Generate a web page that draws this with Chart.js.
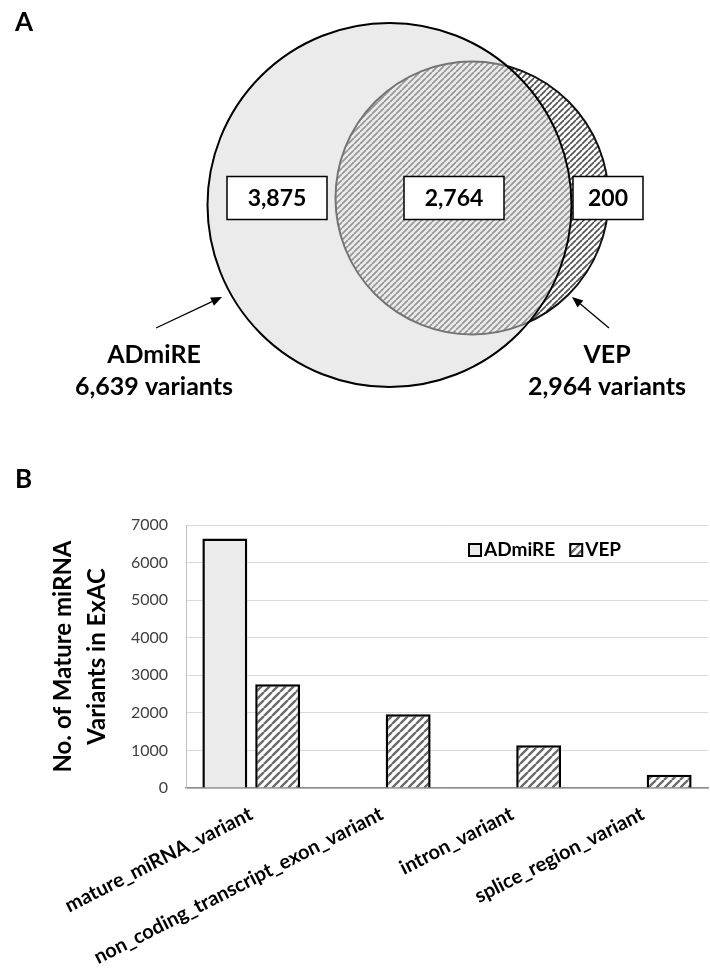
<!DOCTYPE html>
<html>
<head>
<meta charset="utf-8">
<script src="https://cdn.jsdelivr.net/npm/chart.js@4.4.1/dist/chart.umd.min.js"></script>
<style>
  html, body { margin: 0; padding: 0; background: #fff; }
  #page { position: relative; width: 710px; height: 969px; overflow: hidden; }
  #venn { position: absolute; left: 0; top: 0; }
  #bars { position: absolute; left: 0; top: 460px; }
</style>
</head>
<body>
<div id="page">
  <canvas id="venn" width="710" height="460"></canvas>
  <canvas id="bars" width="710" height="509"></canvas>
</div>
<script>
// Panel A: overlap of mature miRNA variant calls
const vennSets = ['ADmiRE', 'VEP'];
const vennTotals = [6639, 2964];
const vennRegionCounts = [3875, 2764, 200]; // ADmiRE only, shared, VEP only

// Panel B: variant consequence categories
const categories = [
  'mature_miRNA_variant',
  'non_coding_transcript_exon_variant',
  'intron_variant',
  'splice_region_variant'
];
const admireCounts = [6639, null, null, null];
const vepCounts = [2764, 1960, 1140, 350];
const yTicks = [0, 1000, 2000, 3000, 4000, 5000, 6000, 7000];

// Diagram geometry (pixels in the panel A canvas)
const vennLayout = {
  circles: [
    { x: 389.5, y: 205, r: 182 },
    { x: 472, y: 198, r: 136.5 }
  ],
  regionBoxes: [
    { x: 277, y: 198, w: 100, h: 43 },
    { x: 454, y: 198, w: 100, h: 43 },
    { x: 608, y: 198, w: 70, h: 43 }
  ],
  setLabels: [
    { x: 154, y: 363, arrowFrom: [156, 328], arrowTo: [222, 297] },
    { x: 607, y: 363, arrowFrom: [609, 328], arrowTo: [572, 297] }
  ]
};

const FONT = 'Lato, "Open Sans", sans-serif';
const fmt = v => v.toLocaleString('en-US');

function hatch(ctx, period, lineW, color, bg) {
  const tile = document.createElement('canvas');
  tile.width = tile.height = period;
  const g = tile.getContext('2d');
  if (bg) { g.fillStyle = bg; g.fillRect(0, 0, period, period); }
  g.strokeStyle = color;
  g.lineWidth = lineW;
  g.beginPath();
  for (let k = -1; k <= 1; k++) {
    g.moveTo(k * period, period);
    g.lineTo(k * period + period, 0);
  }
  g.stroke();
  return ctx.createPattern(tile, 'repeat');
}

function arrow(ctx, from, to) {
  const ang = Math.atan2(to[1] - from[1], to[0] - from[0]);
  const len = 11, half = 4.5;
  const bx = to[0] - len * Math.cos(ang), by = to[1] - len * Math.sin(ang);
  ctx.strokeStyle = '#000';
  ctx.lineWidth = 1.3;
  ctx.beginPath();
  ctx.moveTo(from[0], from[1]);
  ctx.lineTo(bx, by);
  ctx.stroke();
  ctx.fillStyle = '#000';
  ctx.beginPath();
  ctx.moveTo(to[0], to[1]);
  ctx.lineTo(bx + half * Math.sin(ang), by - half * Math.cos(ang));
  ctx.lineTo(bx - half * Math.sin(ang), by + half * Math.cos(ang));
  ctx.closePath();
  ctx.fill();
}

const vennAnnotations = {
  id: 'vennAnnotations',
  afterDatasetsDraw(chart) {
    const { ctx, scales: { x, y } } = chart;
    ctx.save();
    // panel letter
    ctx.fillStyle = '#000';
    ctx.font = `bold 26px ${FONT}`;
    ctx.textAlign = 'left';
    ctx.textBaseline = 'alphabetic';
    ctx.fillText('A', 15, 31);

    // region counts in boxes
    vennRegionCounts.forEach((v, i) => {
      const b = vennLayout.regionBoxes[i];
      const px = x.getPixelForValue(b.x), py = y.getPixelForValue(b.y);
      ctx.fillStyle = '#fff';
      ctx.fillRect(px - b.w / 2, py - b.h / 2, b.w, b.h);
      ctx.strokeStyle = '#000';
      ctx.lineWidth = 1.5;
      ctx.strokeRect(px - b.w / 2, py - b.h / 2, b.w, b.h);
      ctx.fillStyle = '#000';
      ctx.font = `bold 23px ${FONT}`;
      ctx.textAlign = 'center';
      ctx.textBaseline = 'middle';
      ctx.fillText(fmt(v), px, py + 1);
    });

    // set names, totals and pointers
    vennSets.forEach((name, i) => {
      const l = vennLayout.setLabels[i];
      const px = x.getPixelForValue(l.x), py = y.getPixelForValue(l.y);
      ctx.fillStyle = '#000';
      ctx.textAlign = 'center';
      ctx.textBaseline = 'alphabetic';
      ctx.font = `bold 25px ${FONT}`;
      ctx.fillText(name, px, py);
      ctx.fillText(`${fmt(vennTotals[i])} variants`, px, py + 32);
      arrow(ctx,
        [x.getPixelForValue(l.arrowFrom[0]), y.getPixelForValue(l.arrowFrom[1])],
        [x.getPixelForValue(l.arrowTo[0]), y.getPixelForValue(l.arrowTo[1])]);
    });
    ctx.restore();
  }
};

const barLegend = {
  id: 'barLegend',
  afterDraw(chart) {
    const { ctx, chartArea } = chart;
    ctx.save();
    ctx.fillStyle = '#000';
    ctx.font = `bold 26px ${FONT}`;
    ctx.textAlign = 'left';
    ctx.textBaseline = 'alphabetic';
    ctx.fillText('B', 15, 28);

    let lx = chartArea.left + 283;
    const top = chartArea.top + 19;
    const box = 12;
    ctx.font = `bold 19px ${FONT}`;
    chart.data.datasets.forEach(ds => {
      ctx.fillStyle = ds.backgroundColor;
      ctx.fillRect(lx, top, box, box);
      ctx.strokeStyle = '#000';
      ctx.lineWidth = 2;
      ctx.strokeRect(lx, top, box, box);
      ctx.fillStyle = '#000';
      ctx.fillText(ds.label, lx + box + 3, top + box);
      lx += box + 3 + ctx.measureText(ds.label).width + 15;
    });
    ctx.restore();
  }
};

function build() {
  const vennCtx = document.getElementById('venn').getContext('2d');
  const barCtx = document.getElementById('bars').getContext('2d');
  const vennHatch = hatch(vennCtx, 6, 1.7, '#555555', null);
  const barHatch = hatch(barCtx, 8, 2.3, '#6a6a6a', '#ffffff');

  new Chart(vennCtx, {
    type: 'bubble',
    data: {
      datasets: [
        {
          label: vennSets[0],
          data: [vennLayout.circles[0]],
          backgroundColor: 'rgba(216,216,216,0.5)',
          borderColor: '#000',
          borderWidth: 2,
          clip: false
        },
        {
          label: vennSets[1],
          data: [vennLayout.circles[1]],
          backgroundColor: vennHatch,
          borderColor: '#111',
          borderWidth: 2,
          clip: false
        }
      ]
    },
    options: {
      responsive: false,
      animation: false,
      events: [],
      layout: { padding: 0, autoPadding: false },
      plugins: { legend: { display: false }, tooltip: { enabled: false } },
      scales: {
        x: { type: 'linear', min: 0, max: 710, display: false },
        y: { type: 'linear', min: 0, max: 460, reverse: true, display: false }
      }
    },
    plugins: [vennAnnotations]
  });

  new Chart(barCtx, {
    type: 'bar',
    data: {
      labels: categories,
      datasets: [
        {
          label: vennSets[0],
          data: admireCounts,
          backgroundColor: '#ebebeb',
          borderColor: '#000',
          borderWidth: 2.5
        },
        {
          label: vennSets[1],
          data: vepCounts,
          backgroundColor: barHatch,
          borderColor: '#000',
          borderWidth: 2.5
        }
      ]
    },
    options: {
      responsive: false,
      animation: false,
      events: [],
      layout: { padding: { top: 65, right: 2, left: 0, bottom: 0 } },
      datasets: { bar: { categoryPercentage: 0.81, barPercentage: 0.85 } },
      plugins: { legend: { display: false }, tooltip: { enabled: false } },
      scales: {
        x: {
          grid: { display: false, drawTicks: false },
          border: { color: '#8c8c8c', width: 1.5 },
          ticks: {
            autoSkip: false,
            minRotation: 27,
            maxRotation: 27,
            padding: 14,
            color: '#000',
            font: { family: FONT, weight: 'bold', size: 20 }
          },
          afterFit(scale) { scale.height = 181; }
        },
        y: {
          min: yTicks[0],
          max: yTicks[yTicks.length - 1],
          afterBuildTicks(scale) { scale.ticks = yTicks.map(v => ({ value: v })); },
          ticks: {
            padding: 18,
            color: '#404040',
            font: { family: FONT, size: 16 },
            callback: v => String(v)
          },
          grid: { color: '#d9d9d9', drawTicks: false },
          border: { color: '#bfbfbf' },
          title: {
            display: true,
            text: ['No. of Mature miRNA', 'Variants in ExAC'],
            color: '#000',
            font: { family: FONT, weight: 'bold', size: 24, lineHeight: 1.417 },
            padding: { top: 46, bottom: 0 }
          },
          afterFit(scale) { scale.width = 186; }
        }
      }
    },
    plugins: [barLegend]
  });
}

Promise.all([
  document.fonts.load(`bold 20px Lato`),
  document.fonts.load(`16px Lato`)
]).catch(() => {}).then(build);
</script>
</body>
</html>
